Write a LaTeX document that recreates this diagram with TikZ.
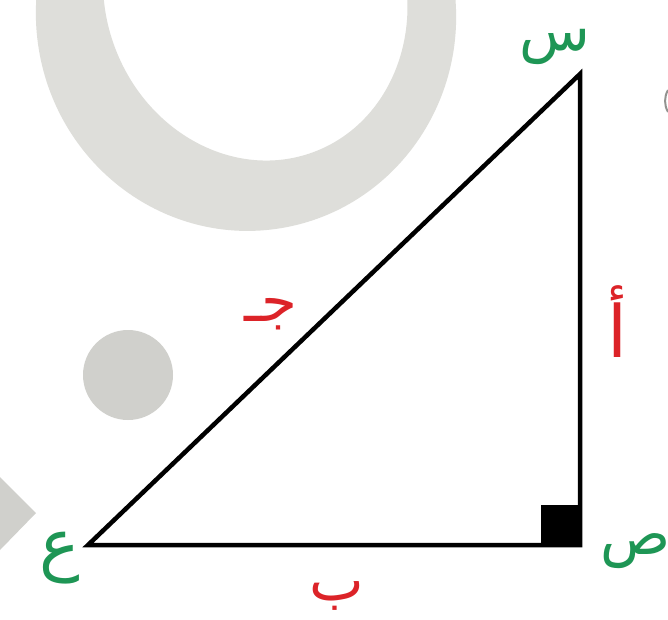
\documentclass[tikz,border=0pt]{standalone}
\usepackage{fontspec}
\TeXXeTstate=1
\newfontfamily\arabicfont[Script=Arabic]{DejaVu Sans}
\definecolor{vgreen}{RGB}{30,150,85}
\definecolor{sred}{RGB}{220,35,40}
\definecolor{wmring}{RGB}{222,222,218}
\definecolor{wmdot}{RGB}{208,208,204}
\tikzset{
  vlabel/.style={text=vgreen,font=\arabicfont\fontsize{58}{58}\selectfont,inner sep=0pt},
  slabel/.style={text=sred,font=\arabicfont\fontsize{58}{58}\selectfont,inner sep=0pt},
  side/.style={line width=4.5pt,line join=miter,line cap=rect}
}
\begin{document}
\begin{tikzpicture}[x=1pt,y=-1pt]
\useasboundingbox (0,0) rectangle (668,619);
\fill[white] (0,0) rectangle (668,619);
% watermark
\fill[wmring,even odd rule]
  [rotate around={8:(246,15)}] (246,15) ellipse [x radius=210,y radius=216]
  [rotate around={12:(258,-4)}] (258,-4) ellipse [x radius=150,y radius=168];
\fill[wmdot] (128,375) circle [radius=45];
\fill[wmdot] (0,477) -- (36,513) -- (0,550) -- cycle;
\draw[wmdot!70!black,line width=2pt] (668,90) arc[start angle=210,end angle=150,radius=22];
% triangle
\coordinate (S) at (580,74);
\coordinate (Sad) at (580,545);
\coordinate (Ain) at (88,545);
\fill[black] (541,505) rectangle (580,545);
\draw[side] (S) -- (Sad) -- (Ain) -- cycle;
% vertex labels
\node[vlabel] (lS) at (555,47) {\beginR س\endR};
\node[vlabel] (lSad) at (636,551) {\beginR ص\endR};
\node[vlabel,font=\arabicfont\fontsize{68}{68}\selectfont] (lAin) at (60,558) {\beginR ع\endR};
% side labels
\node[slabel,font=\arabicfont\fontsize{72}{72}\selectfont] (la) at (617,322) {\beginR أ\endR};
\node[slabel] (lb) at (337,596) {\beginR ب\endR};
\node[slabel] (lc) at (271,314) {\beginR جـ\endR};
\end{tikzpicture}
\end{document}
